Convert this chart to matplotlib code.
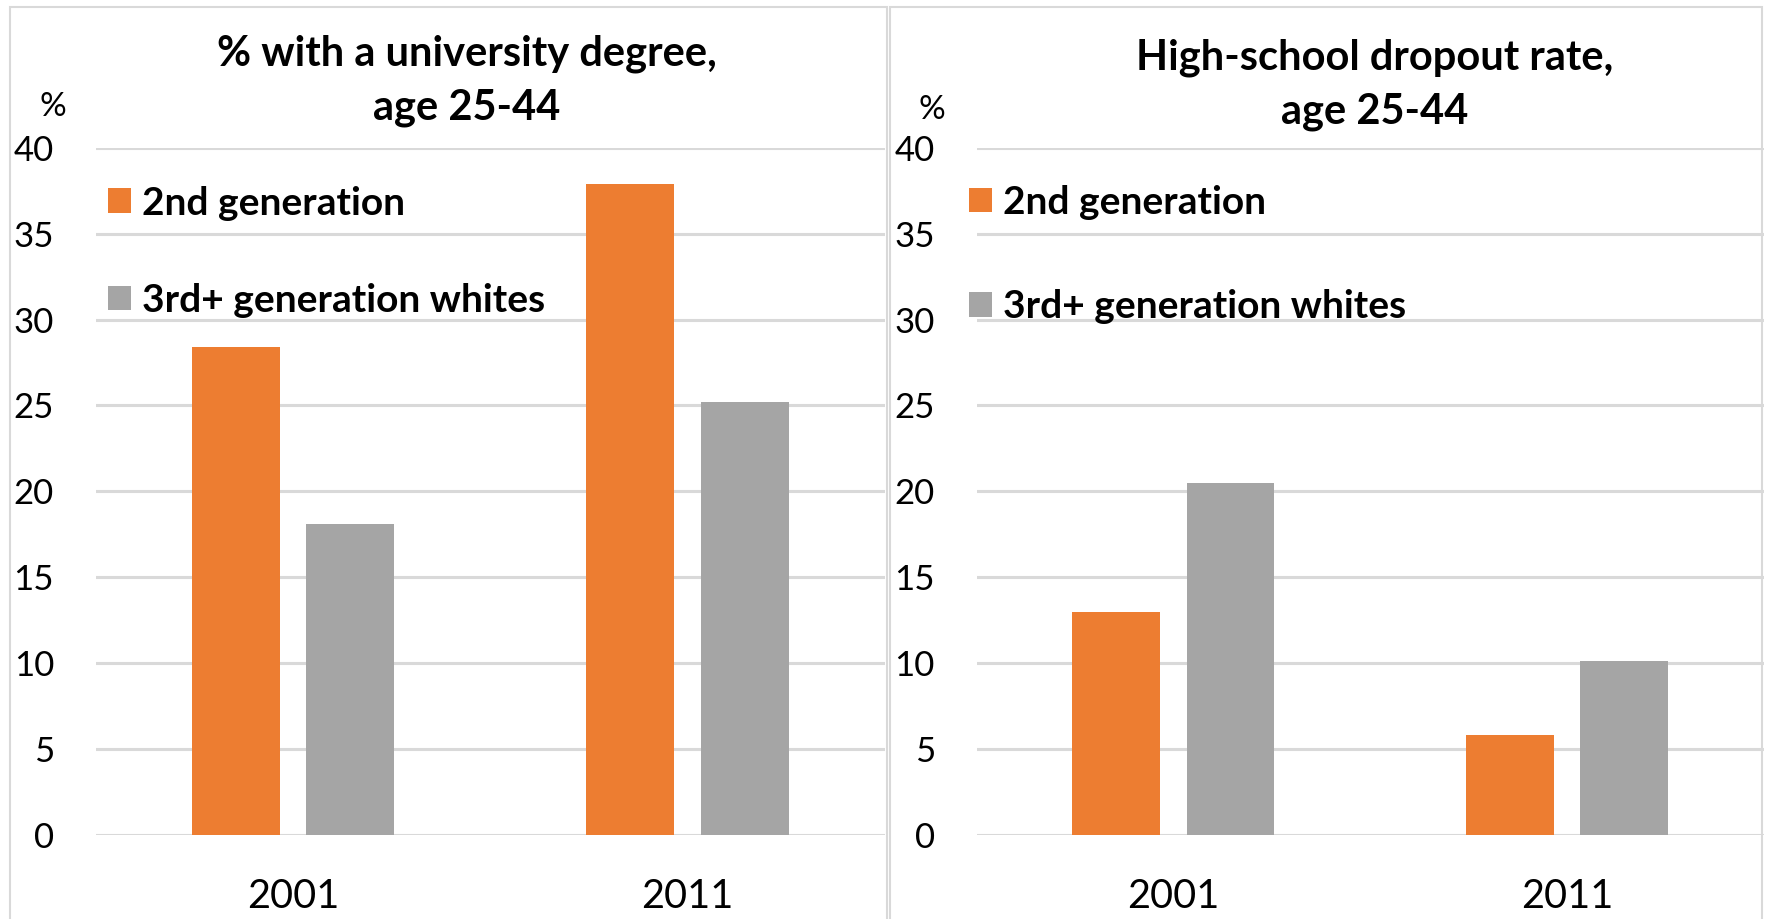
import numpy as np
import matplotlib.pyplot as plt
from matplotlib.patches import Rectangle

plt.rcParams["font.family"] = ["Lato", "DejaVu Sans"]

# Data
years = ["2001", "2011"]
series = ["2nd generation", "3rd+ generation whites"]
degree_2nd = [28.4, 37.9]
degree_3rd = [18.1, 25.2]
dropout_2nd = [13.0, 5.8]
dropout_3rd = [20.5, 10.1]
titles = ["% with a university degree,\nage 25-44", "High-school dropout rate,\nage 25-44"]
yticks = [0, 5, 10, 15, 20, 25, 30, 35, 40]

orange = "#ED7D31"
grey = "#A5A5A5"
gridc = "#D9D9D9"

W, H = 1766, 919
fig = plt.figure(figsize=(W / 100, H / 100), dpi=100)

# panel frames (px)
for x0, x1 in [(10, 887), (890, 1762)]:
    fig.patches.append(Rectangle((x0 / W, -0.05), (x1 - x0) / W, 1 - 7 / H + 0.05,
                                 transform=fig.transFigure, fill=False,
                                 edgecolor=gridc, lw=1.5))

ax1 = fig.add_axes([95.7 / W, 1 - 835 / H, 789 / W, 687.3 / H])
ax2 = fig.add_axes([976.5 / W, 1 - 835 / H, 787.5 / W, 687.3 / H])

x = np.arange(len(years))
w = 0.223
off = 0.145

# ax, series, title x/y, legend x/y, legend row spacing
panels = [
    (ax1, degree_2nd, degree_3rd, titles[0], 0.4706, 1.098, 0.015, 0.945, 1.6),
    (ax2, dropout_2nd, dropout_3rd, titles[1], 0.505, 1.092, -0.01, 0.946, 1.78),
]

for ax, s2, s3, t, tx, ty, lx, ly, ls in panels:
    ax.bar(x - off, s2, w, color=orange, label=series[0], zorder=3)
    ax.bar(x + off, s3, w, color=grey, label=series[1], zorder=3)
    ax.set_xlim(-0.5, 1.5)
    ax.set_ylim(0, 40)
    ax.set_yticks(yticks)
    ax.set_xticks(x)
    ax.set_xticklabels(years)
    ax.yaxis.grid(True, color=gridc, lw=2.2, zorder=0)
    ax.set_axisbelow(True)
    for sp in ax.spines.values():
        sp.set_visible(False)
    ax.tick_params(axis="y", length=0, pad=30, labelsize=25)
    ax.tick_params(axis="x", length=0, pad=31, labelsize=28.5)
    ax.text(tx, ty, t, transform=ax.transAxes, ha="center", va="center",
            fontsize=30, fontweight="bold", linespacing=1.5)
    ax.legend(loc="upper left", bbox_to_anchor=(lx, ly), frameon=False,
              prop={"size": 28, "weight": "bold"}, handlelength=0.6,
              handleheight=0.6, handletextpad=0.28, labelspacing=ls,
              borderaxespad=0.0, borderpad=0.0)

fig.text(53 / W, 1 - 107 / H, "%", ha="center", va="center", fontsize=24)
fig.text(932 / W, 1 - 110 / H, "%", ha="center", va="center", fontsize=24)

fig.savefig("out.png", dpi=100)
